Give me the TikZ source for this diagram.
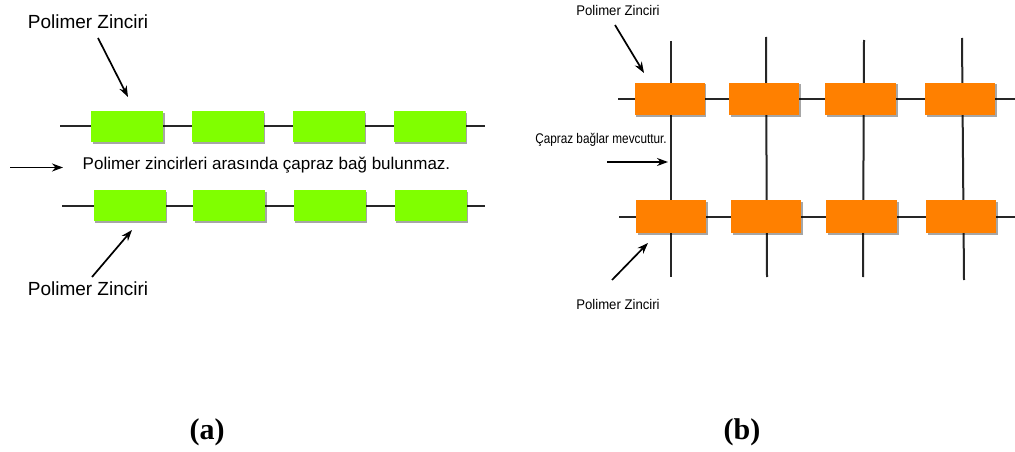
\documentclass[tikz,border=0pt]{standalone}
\usepackage{fontspec}
\setmainfont{Liberation Sans}
\newfontfamily\capfont{Liberation Serif}
\usetikzlibrary{arrows.meta,shadows}
\definecolor{chaingreen}{RGB}{128,255,0}
\definecolor{chainorange}{RGB}{255,128,0}
\begin{document}
\begin{tikzpicture}[x=1pt,y=-1pt,
  chainline/.style={line width=2pt,black!85},
  linkarrow/.style={line width=1.7pt,-{Stealth[length=11pt,width=8pt]}},
  gbox/.style={fill=chaingreen,draw=none,minimum width=72pt,minimum height=31pt,inner sep=0pt,
    drop shadow={shadow xshift=1.5pt,shadow yshift=-1.5pt,opacity=0.35,fill=black}},
  obox/.style={fill=chainorange,draw=none,minimum width=70pt,minimum height=32pt,inner sep=0pt,
    drop shadow={shadow xshift=1.5pt,shadow yshift=-1.5pt,opacity=0.35,fill=black}},
  biglabel/.style={font=\fontsize{19}{21}\selectfont,inner sep=0pt},
  midlabel/.style={font=\fontsize{17}{19}\selectfont,inner sep=0pt},
  smalllabel/.style={font=\fontsize{14}{16}\selectfont,inner sep=0pt},
  caption/.style={font=\capfont\bfseries\fontsize{30}{32}\selectfont,inner sep=0pt}]
\useasboundingbox (0,0) rectangle (1015,452);
\fill[white] (0,0) rectangle (1015,452);

% ---------- panel (a) ----------
\coordinate (atl) at (60,126);  \coordinate (atr) at (485,126);
\coordinate (abl) at (62,205.5); \coordinate (abr) at (485,205.5);
\draw[chainline] (atl) -- (atr);
\draw[chainline] (abl) -- (abr);
\node[gbox] (ga1) at (127,126.5) {};
\node[gbox] (ga2) at (227.5,126.5) {};
\node[gbox] (ga3) at (328.5,126.5) {};
\node[gbox] (ga4) at (429.5,126.5) {};
\node[gbox] (gb1) at (129.5,205.5) {};
\node[gbox] (gb2) at (229,205.5) {};
\node[gbox] (gb3) at (329.5,205.5) {};
\node[gbox] (gb4) at (430.5,205.5) {};

\node[biglabel] (pa1) at (88,22) {Polimer Zinciri};
\node[biglabel] (pa2) at (88,289) {Polimer Zinciri};
\node[midlabel] (mida) at (266.5,165) {Polimer zincirleri arasında çapraz bağ bulunmaz.};

\coordinate (a1s) at (98,38);   \coordinate (a1e) at (128,97);
\coordinate (a2s) at (10,167.5); \coordinate (a2e) at (63,167.5);
\coordinate (a3s) at (92,277);  \coordinate (a3e) at (132,230);
\draw[linkarrow] (a1s) -- (a1e);
\draw[linkarrow] (a2s) -- (a2e);
\draw[linkarrow] (a3s) -- (a3e);

% ---------- panel (b) ----------
\coordinate (btl) at (618,99);  \coordinate (btr) at (1015,99);
\coordinate (bbl) at (619,216.5); \coordinate (bbr) at (1015,216.5);
\draw[chainline] (btl) -- (btr);
\draw[chainline] (bbl) -- (bbr);
\coordinate (v1t) at (671,41); \coordinate (v1b) at (671,277);
\coordinate (v2t) at (766,37); \coordinate (v2b) at (767,277);
\coordinate (v3t) at (864,40); \coordinate (v3b) at (863,277);
\coordinate (v4t) at (962,38); \coordinate (v4b) at (964,280);
\draw[chainline] (v1t) -- (v1b);
\draw[chainline] (v2t) -- (v2b);
\draw[chainline] (v3t) -- (v3b);
\draw[chainline] (v4t) -- (v4b);
\node[obox] (ob1) at (669.5,99) {};
\node[obox] (ob2) at (764,99) {};
\node[obox,minimum width=71pt] (ob3) at (860.5,99) {};
\node[obox] (ob4) at (960,99) {};
\node[obox,minimum height=33pt] (oc1) at (671,216.5) {};
\node[obox,minimum height=33pt] (oc2) at (766,216.5) {};
\node[obox,minimum height=33pt,minimum width=71pt] (oc3) at (861.5,216.5) {};
\node[obox,minimum height=33pt] (oc4) at (961,216.5) {};

\node[smalllabel] (pb1) at (618,10) {\scalebox{0.94}[1]{Polimer Zinciri}};
\node[smalllabel] (pb2) at (618,304) {\scalebox{0.94}[1]{Polimer Zinciri}};
\node[smalllabel] (midb) at (601,140) {\scalebox{0.84}[1]{Çapraz bağlar mevcuttur.}};

\coordinate (b1s) at (615,25);  \coordinate (b1e) at (644,73);
\coordinate (b2s) at (607,162); \coordinate (b2e) at (668,162);
\coordinate (b3s) at (612,280); \coordinate (b3e) at (648,243);
\draw[linkarrow] (b1s) -- (b1e);
\draw[linkarrow] (b2s) -- (b2e);
\draw[linkarrow] (b3s) -- (b3e);

% ---------- captions ----------
\node[caption] (capa) at (207,432) {(a)};
\node[caption] (capb) at (742,432) {(b)};
\end{tikzpicture}
\end{document}
